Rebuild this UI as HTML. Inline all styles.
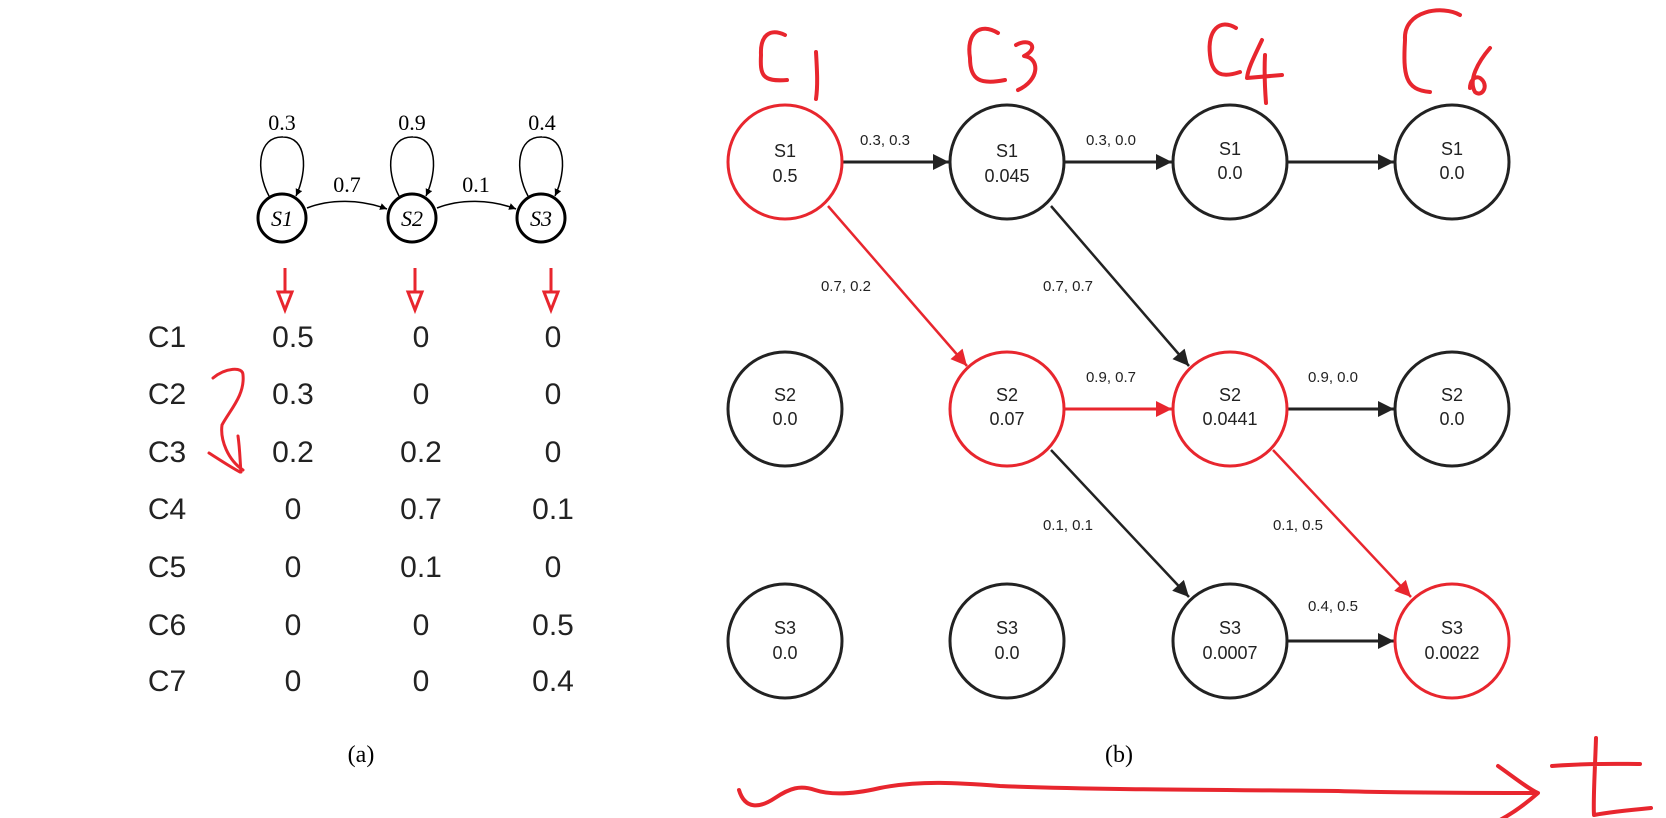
<!DOCTYPE html>
<html><head><meta charset="utf-8"><style>
html,body{margin:0;padding:0;background:#fff;width:1666px;height:818px;overflow:hidden}
svg{display:block}
.ser{font-family:"Liberation Serif",serif}
.san{font-family:"Liberation Sans",sans-serif}
</style></head><body>
<svg width="1666" height="818" viewBox="0 0 1666 818" xmlns="http://www.w3.org/2000/svg">
<defs>
<marker id="ab" viewBox="0 0 10 10" refX="10" refY="5" markerWidth="7" markerHeight="7" orient="auto" markerUnits="userSpaceOnUse"><path d="M0,0L10,5L0,10z" fill="#000"/></marker>
<marker id="AB" viewBox="0 0 10 10" refX="10" refY="5" markerWidth="22" markerHeight="16" orient="auto" markerUnits="userSpaceOnUse"><path d="M0,0L10,5L0,10z" fill="#222"/></marker>
<marker id="AR" viewBox="0 0 10 10" refX="10" refY="5" markerWidth="22" markerHeight="16" orient="auto" markerUnits="userSpaceOnUse"><path d="M0,0L10,5L0,10z" fill="#e8262e"/></marker>
</defs>
<g fill="none" stroke="#000" stroke-width="2">
<circle cx="282" cy="218" r="24" stroke-width="3"/>
<circle cx="412" cy="218" r="24" stroke-width="3"/>
<circle cx="541" cy="218" r="24" stroke-width="3"/>
<path d="M269,196 C255,170 258,136 283,137 C307,137 308,170 296,196" stroke-width="1.5" marker-end="url(#ab)"/>
<path d="M399,196 C385,170 388,136 413,137 C437,137 438,170 426,196" stroke-width="1.5" marker-end="url(#ab)"/>
<path d="M528,196 C514,170 517,136 542,137 C566,137 567,170 555,196" stroke-width="1.5" marker-end="url(#ab)"/>
<path d="M307,208 C330,199 360,199 387,209" stroke-width="1.5" marker-end="url(#ab)"/>
<path d="M437,208 C460,199 490,199 516,209" stroke-width="1.5" marker-end="url(#ab)"/>
</g>
<g class="ser" font-size="22" text-anchor="middle">
<text x="282" y="130">0.3</text><text x="412" y="130">0.9</text><text x="542" y="130">0.4</text>
<text x="347" y="192">0.7</text><text x="476" y="192">0.1</text>
<text x="282" y="226" font-style="italic">S1</text><text x="412" y="226" font-style="italic">S2</text><text x="541" y="226" font-style="italic">S3</text>
</g>
<g stroke="#e8262e" stroke-width="3" fill="#fff">
<line x1="285" y1="268" x2="285" y2="295"/><path d="M278,292L292,292L285,310z"/>
<line x1="415" y1="268" x2="415" y2="295"/><path d="M408,292L422,292L415,310z"/>
<line x1="551" y1="268" x2="551" y2="295"/><path d="M544,292L558,292L551,310z"/>
</g>
<g class="san" font-size="30" fill="#222" text-anchor="middle">
<text x="167" y="347">C1</text><text x="293" y="347">0.5</text><text x="421" y="347">0</text><text x="553" y="347">0</text>
<text x="167" y="404">C2</text><text x="293" y="404">0.3</text><text x="421" y="404">0</text><text x="553" y="404">0</text>
<text x="167" y="462">C3</text><text x="293" y="462">0.2</text><text x="421" y="462">0.2</text><text x="553" y="462">0</text>
<text x="167" y="519">C4</text><text x="293" y="519">0</text><text x="421" y="519">0.7</text><text x="553" y="519">0.1</text>
<text x="167" y="577">C5</text><text x="293" y="577">0</text><text x="421" y="577">0.1</text><text x="553" y="577">0</text>
<text x="167" y="635">C6</text><text x="293" y="635">0</text><text x="421" y="635">0</text><text x="553" y="635">0.5</text>
<text x="167" y="691">C7</text><text x="293" y="691">0</text><text x="421" y="691">0</text><text x="553" y="691">0.4</text>
</g>
<g class="ser" font-size="24" text-anchor="middle"><text x="361" y="762">(a)</text><text x="1119" y="762">(b)</text></g>
<g fill="none" stroke="#e8262e" stroke-width="3" stroke-linecap="round">
<path d="M213,378 C225,368 243,366 243,375 C245,395 230,410 222,425 C220,440 228,460 243,470"/>
<path d="M209,453 C220,460 232,468 240,472 M238,436 C240,450 240,462 241,472"/>
</g>
<g stroke-width="3" fill="none">
<line x1="843" y1="162" x2="949" y2="162" stroke="#222" marker-end="url(#AB)"/>
<line x1="1065" y1="162" x2="1172" y2="162" stroke="#222" marker-end="url(#AB)"/>
<line x1="1288" y1="162" x2="1394" y2="162" stroke="#222" marker-end="url(#AB)"/>
<line x1="1065" y1="409" x2="1172" y2="409" stroke="#e8262e" marker-end="url(#AR)"/>
<line x1="1288" y1="409" x2="1394" y2="409" stroke="#222" marker-end="url(#AB)"/>
<line x1="1288" y1="641" x2="1394" y2="641" stroke="#222" marker-end="url(#AB)"/>
<line x1="828" y1="206" x2="967" y2="366" stroke="#e8262e" stroke-width="2.5" marker-end="url(#AR)"/>
<line x1="1051" y1="206" x2="1189" y2="366" stroke="#222" stroke-width="2.5" marker-end="url(#AB)"/>
<line x1="1051" y1="450" x2="1189" y2="597" stroke="#222" stroke-width="2.5" marker-end="url(#AB)"/>
<line x1="1273" y1="450" x2="1411" y2="597" stroke="#e8262e" stroke-width="2.5" marker-end="url(#AR)"/>
</g>
<g stroke-width="3" fill="#fff">
<circle cx="785" cy="162" r="57" stroke="#e8262e"/>
<circle cx="1007" cy="162" r="57" stroke="#222"/>
<circle cx="1230" cy="162" r="57" stroke="#222"/>
<circle cx="1452" cy="162" r="57" stroke="#222"/>
<circle cx="785" cy="409" r="57" stroke="#222"/>
<circle cx="1007" cy="409" r="57" stroke="#e8262e"/>
<circle cx="1230" cy="409" r="57" stroke="#e8262e"/>
<circle cx="1452" cy="409" r="57" stroke="#222"/>
<circle cx="785" cy="641" r="57" stroke="#222"/>
<circle cx="1007" cy="641" r="57" stroke="#222"/>
<circle cx="1230" cy="641" r="57" stroke="#222"/>
<circle cx="1452" cy="641" r="57" stroke="#e8262e"/>
</g>
<g class="san" font-size="18" fill="#222" text-anchor="middle">
<text x="785" y="157">S1</text><text x="785" y="182">0.5</text>
<text x="1007" y="157">S1</text><text x="1007" y="182">0.045</text>
<text x="1230" y="155">S1</text><text x="1230" y="179">0.0</text>
<text x="1452" y="155">S1</text><text x="1452" y="179">0.0</text>
<text x="785" y="401">S2</text><text x="785" y="425">0.0</text>
<text x="1007" y="401">S2</text><text x="1007" y="425">0.07</text>
<text x="1230" y="401">S2</text><text x="1230" y="425">0.0441</text>
<text x="1452" y="401">S2</text><text x="1452" y="425">0.0</text>
<text x="785" y="634">S3</text><text x="785" y="659">0.0</text>
<text x="1007" y="634">S3</text><text x="1007" y="659">0.0</text>
<text x="1230" y="634">S3</text><text x="1230" y="659">0.0007</text>
<text x="1452" y="634">S3</text><text x="1452" y="659">0.0022</text>
</g>
<g class="san" font-size="15" fill="#222" text-anchor="middle">
<text x="885" y="145">0.3, 0.3</text><text x="1111" y="145">0.3, 0.0</text>
<text x="846" y="291">0.7, 0.2</text><text x="1068" y="291">0.7, 0.7</text>
<text x="1111" y="382">0.9, 0.7</text><text x="1333" y="382">0.9, 0.0</text>
<text x="1068" y="530">0.1, 0.1</text><text x="1298" y="530">0.1, 0.5</text>
<text x="1333" y="611">0.4, 0.5</text>
</g>
<g fill="none" stroke="#e8262e" stroke-width="4" stroke-linecap="round" stroke-linejoin="round">
<path d="M785,35 C770,28 760,35 761,55 C760,75 762,82 787,80"/>
<path d="M816,52 C817,70 818,85 816,99"/>
<path d="M998,33 C980,22 966,33 970,58 C970,80 980,85 1005,80"/>
<path d="M1016,45 C1030,37 1040,48 1024,56 C1040,58 1040,80 1018,90"/>
<path d="M1236,28 C1220,18 1207,30 1210,55 C1212,75 1222,78 1240,72"/>
<path d="M1262,40 C1255,55 1248,68 1247,78 L1282,75 M1265,55 C1264,75 1265,90 1266,103"/>
<path d="M1460,15 C1443,5 1403,10 1405,40 C1403,75 1405,90 1430,92"/>
<path d="M1490,48 C1478,62 1468,80 1475,92 C1482,98 1490,85 1480,78 C1474,75 1470,82 1470,88"/>
<path d="M739,790 C745,810 760,808 775,798 C790,788 800,785 815,790 C830,795 850,795 880,788 C920,780 960,783 1000,786 C1100,790 1250,790 1338,791 C1400,793 1480,793 1535,793"/>
<path d="M1498,766 C1515,778 1530,790 1538,793 C1530,800 1515,812 1500,820"/>
<path d="M1552,766 C1590,763 1620,764 1640,764 M1596,738 C1595,770 1593,800 1594,815 C1610,812 1630,810 1651,808"/>
</g>
</svg>
</body></html>
